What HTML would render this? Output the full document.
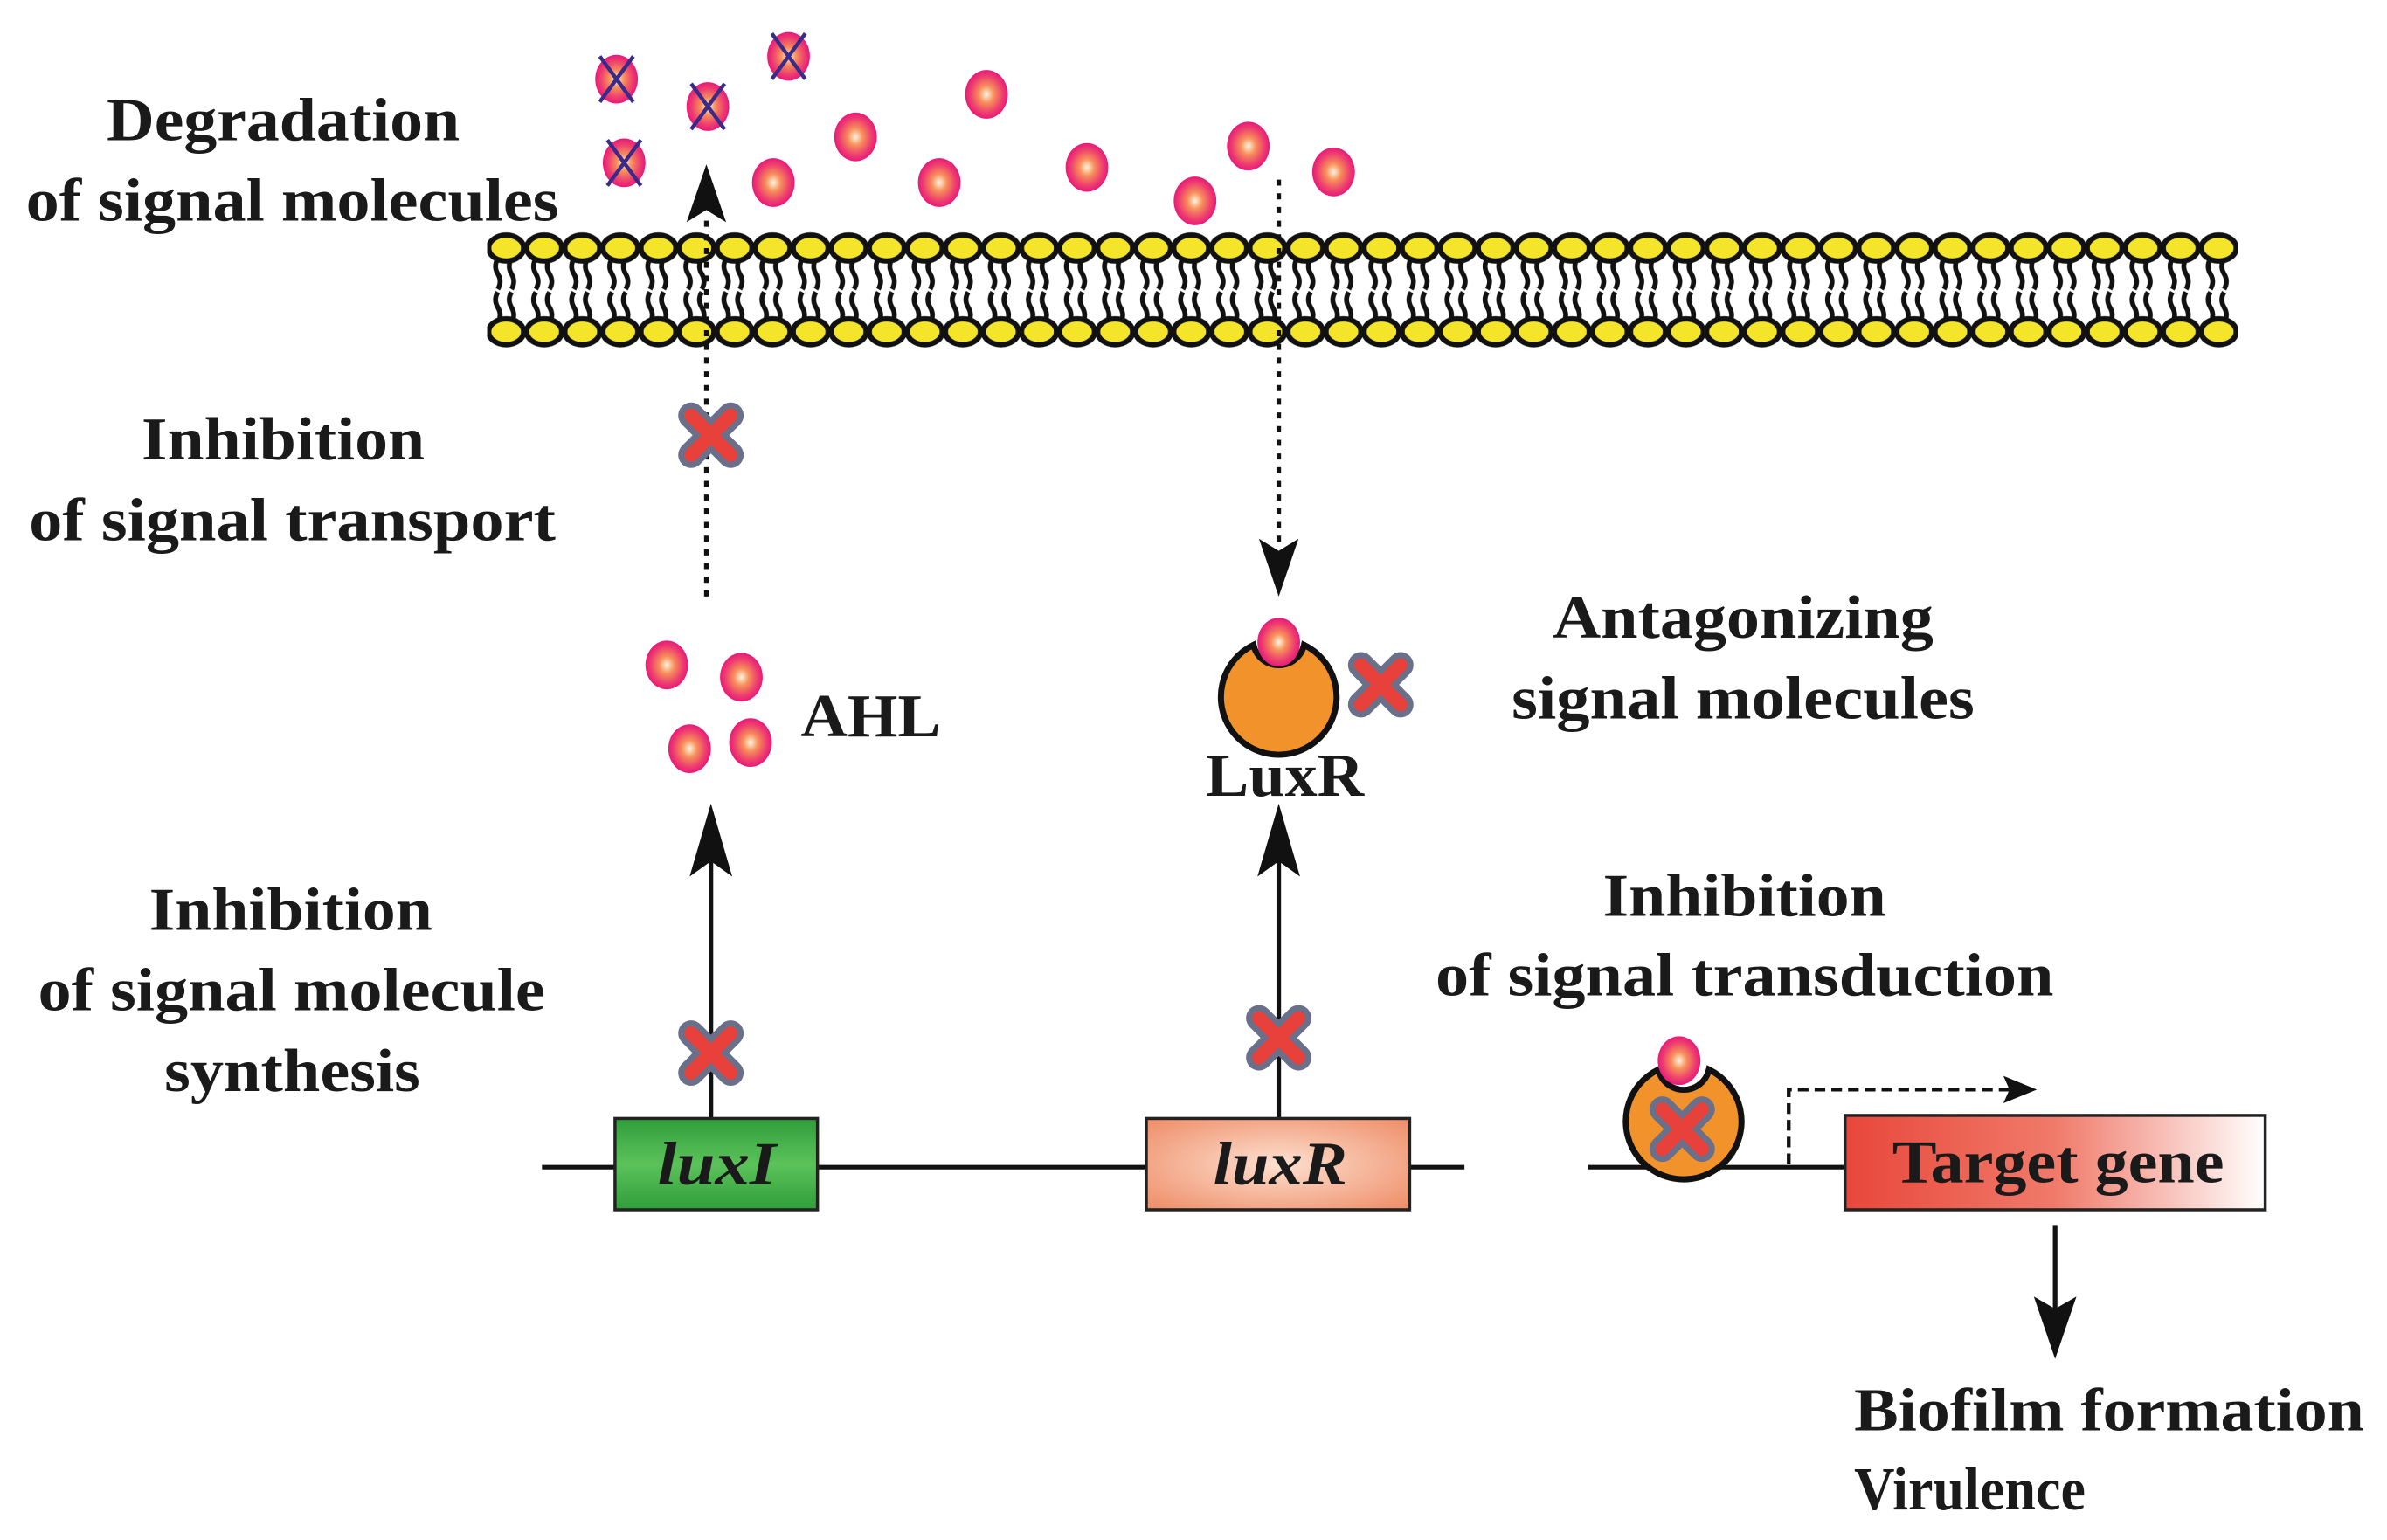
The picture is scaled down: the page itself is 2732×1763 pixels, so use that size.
<!DOCTYPE html>
<html><head><meta charset="utf-8"><style>
html,body{margin:0;padding:0;background:#fff;}
svg{display:block;}
text{font-family:"Liberation Serif",serif;font-weight:bold;fill:#1a1a1a;font-size:40px;}
</style></head><body>
<svg width="2732" height="1763" viewBox="0 0 1568 1012" preserveAspectRatio="none" xmlns="http://www.w3.org/2000/svg">
<defs>
<radialGradient id="mol" cx="50%" cy="50%" r="50%">
<stop offset="0" stop-color="#fff4e0"/><stop offset="0.35" stop-color="#f7905a"/><stop offset="0.75" stop-color="#ee3f6e"/><stop offset="1" stop-color="#e8197a"/>
</radialGradient>
<linearGradient id="green" x1="0" y1="0" x2="0" y2="1"><stop offset="0" stop-color="#2f9e3a"/><stop offset="0.5" stop-color="#5cc25a"/><stop offset="1" stop-color="#2f9e3a"/></linearGradient>
<radialGradient id="salmon" cx="50%" cy="50%" r="70%"><stop offset="0" stop-color="#fde0d0"/><stop offset="1" stop-color="#ee8c66"/></radialGradient>
<linearGradient id="target" x1="0" y1="0" x2="1" y2="0"><stop offset="0" stop-color="#e8473a"/><stop offset="0.5" stop-color="#f07a6a"/><stop offset="1" stop-color="#ffffff"/></linearGradient>
<pattern id="mem" x="320" y="150" width="25" height="82" patternUnits="userSpaceOnUse">
<path d="M7 20 q-3 5 0 10 q3 5 0 10 M16 20 q-3 5 0 10 q3 5 0 10 M7 42 q-3 5 0 10 q3 5 0 10 M16 42 q-3 5 0 10 q3 5 0 10" fill="none" stroke="#111" stroke-width="3.2"/>
<ellipse cx="12.5" cy="13" rx="11.5" ry="8.5" fill="#f5e52a" stroke="#111" stroke-width="3.5"/>
<ellipse cx="12.5" cy="68" rx="11.5" ry="8.5" fill="#f5e52a" stroke="#111" stroke-width="3.5"/>
</pattern>
<g id="m"><ellipse cx="0" cy="0" rx="14" ry="16" fill="url(#mol)"/></g>
<g id="cx"><ellipse cx="0" cy="0" rx="14" ry="16" fill="url(#mol)"/><path d="M-11 -15 L11 15 M11 -15 L-11 15" stroke="#3a2a8a" stroke-width="2.5"/></g>
<g id="rx"><path d="M-13 -13 L13 13 M13 -13 L-13 13" stroke="#6a6f8a" stroke-width="17" stroke-linecap="round"/><path d="M-13 -13 L13 13 M13 -13 L-13 13" stroke="#e8403a" stroke-width="9" stroke-linecap="round"/></g>
<path id="lux" d="M823.4 423.8 A38 38 0 1 0 856.6 423.8 A17 17 0 0 1 823.4 423.8 Z" fill="#f2922a" stroke="#111" stroke-width="4"/>
</defs>

<rect x="320" y="150" width="1150" height="82" fill="url(#mem)"/>

<use href="#cx" x="405" y="52"/><use href="#cx" x="465" y="70"/><use href="#cx" x="518" y="37"/><use href="#cx" x="410" y="107"/>
<use href="#m" x="508" y="120"/><use href="#m" x="562" y="90"/><use href="#m" x="617" y="120"/><use href="#m" x="648" y="62"/>
<use href="#m" x="714" y="110"/><use href="#m" x="785" y="132"/><use href="#m" x="820" y="96"/><use href="#m" x="876" y="113"/>

<line x1="464" y1="145" x2="464" y2="395" stroke="#111" stroke-width="3" stroke-dasharray="4 5"/>
<path d="M464 108 L451 146 L464 138 L477 146 Z" fill="#111"/>
<use href="#rx" x="467" y="286"/>
<line x1="840" y1="118" x2="840" y2="360" stroke="#111" stroke-width="3" stroke-dasharray="4 5"/>
<path d="M840 392 L827 354 L840 362 L853 354 Z" fill="#111"/>

<use href="#m" x="438" y="437"/><use href="#m" x="487" y="445"/><use href="#m" x="453" y="492"/><use href="#m" x="493" y="488"/>
<text x="526" y="484" textLength="92" lengthAdjust="spacingAndGlyphs">AHL</text>

<use href="#lux"/>
<use href="#m" x="840" y="422"/>
<use href="#rx" x="907" y="450"/>
<text x="792" y="523" textLength="104" lengthAdjust="spacingAndGlyphs">LuxR</text>

<line x1="467" y1="560" x2="467" y2="737" stroke="#111" stroke-width="3"/>
<path d="M467 528 L453 576 L467 566 L481 576 Z" fill="#111"/>
<line x1="840" y1="560" x2="840" y2="737" stroke="#111" stroke-width="3"/>
<path d="M840 528 L826 576 L840 566 L854 576 Z" fill="#111"/>
<use href="#rx" x="467" y="692"/>
<use href="#rx" x="840" y="682"/>

<line x1="356" y1="767" x2="962" y2="767" stroke="#111" stroke-width="3"/>
<rect x="404" y="735" width="133" height="60" fill="url(#green)" stroke="#222" stroke-width="2"/>
<text x="432" y="778" font-style="italic" textLength="78" lengthAdjust="spacingAndGlyphs">luxI</text>
<rect x="753" y="735" width="173" height="60" fill="url(#salmon)" stroke="#222" stroke-width="2"/>
<text x="797" y="778" font-style="italic" textLength="88" lengthAdjust="spacingAndGlyphs">luxR</text>

<line x1="1043" y1="767" x2="1212" y2="767" stroke="#111" stroke-width="3"/>
<rect x="1212" y="733" width="276" height="62" fill="url(#target)" stroke="#222" stroke-width="2"/>
<text x="1243" y="777" textLength="218" lengthAdjust="spacingAndGlyphs">Target gene</text>

<g transform="translate(266,279)"><use href="#lux"/></g>
<use href="#rx" x="1105" y="742"/>
<use href="#m" x="1103" y="697"/>
<path d="M1175 765 L1175 716 L1322 716" fill="none" stroke="#111" stroke-width="2.5" stroke-dasharray="7 4"/>
<path d="M1338 716 L1316 707 L1320 716 L1316 725 Z" fill="#111"/>

<line x1="1350" y1="805" x2="1350" y2="862" stroke="#111" stroke-width="3"/>
<path d="M1350 893 L1336 852 L1350 860 L1364 852 Z" fill="#111"/>

<text x="70" y="92" textLength="232" lengthAdjust="spacingAndGlyphs">Degradation</text>
<text x="17" y="145" textLength="350" lengthAdjust="spacingAndGlyphs">of signal molecules</text>
<text x="93" y="302" textLength="186" lengthAdjust="spacingAndGlyphs">Inhibition</text>
<text x="19" y="355" textLength="346" lengthAdjust="spacingAndGlyphs">of signal transport</text>
<text x="98" y="611" textLength="186" lengthAdjust="spacingAndGlyphs">Inhibition</text>
<text x="25" y="664" textLength="333" lengthAdjust="spacingAndGlyphs">of signal molecule</text>
<text x="108" y="717" textLength="168" lengthAdjust="spacingAndGlyphs">synthesis</text>
<text x="1020" y="419" textLength="250" lengthAdjust="spacingAndGlyphs">Antagonizing</text>
<text x="993" y="472" textLength="304" lengthAdjust="spacingAndGlyphs">signal molecules</text>
<text x="1053" y="602" textLength="186" lengthAdjust="spacingAndGlyphs">Inhibition</text>
<text x="943" y="654" textLength="406" lengthAdjust="spacingAndGlyphs">of signal transduction</text>
<text x="1218" y="940" textLength="335" lengthAdjust="spacingAndGlyphs">Biofilm formation</text>
<text x="1218" y="992" textLength="152" lengthAdjust="spacingAndGlyphs">Virulence</text>
</svg>
</body></html>
